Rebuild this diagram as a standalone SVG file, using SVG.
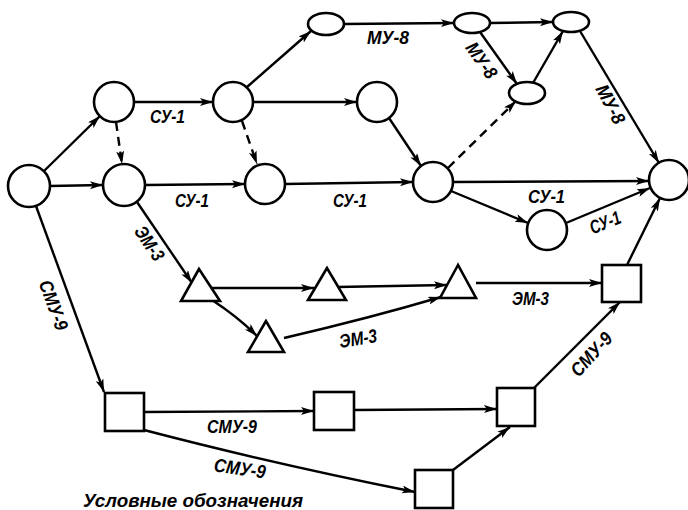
<svg xmlns="http://www.w3.org/2000/svg" width="688" height="510" viewBox="0 0 688 510">
<style>
.n{fill:#fff;stroke:#000;stroke-width:2.6}
.e{fill:none;stroke:#000;stroke-width:2.4;marker-end:url(#ah)}
.d{stroke-dasharray:9 6}
.t{font-family:"Liberation Sans",Arial,sans-serif;font-style:italic;font-weight:bold;font-size:19px;fill:#000}
</style>
<defs>
<marker id="ah" markerWidth="15" markerHeight="10" refX="13" refY="4" orient="auto" markerUnits="userSpaceOnUse">
<path d="M0,0 L13,4 L0,8 L3,4 Z" fill="#000"/>
</marker>
</defs>
<rect width="688" height="510" fill="#fff"/>
<g id="connectors">
<path class="e" d="M44,171 L100,116"/>
<path class="e" d="M50,186 L103,185"/>
<path class="e" d="M36,206 L104,392"/>
<path class="e" d="M134,102 L213,102"/>
<path class="e d" d="M116,122 L122,164"/>
<path class="e" d="M145,185 L245,184"/>
<path class="e" d="M137,202 L192,283"/>
<path class="e" d="M247,87 L311,31"/>
<path class="e" d="M253,102 L357,102"/>
<path class="e d" d="M242,121 L257,164"/>
<path class="e" d="M389,118 L421,166"/>
<path class="e" d="M285,184 L413,182"/>
<path class="e" d="M344,24 L454,23"/>
<path class="e" d="M490,23 L553,22"/>
<path class="e" d="M480,32 L517,84"/>
<path class="e" d="M533,83 L563,31"/>
<path class="e d" d="M448,168 L516,101"/>
<path class="e" d="M580,31 L659,163"/>
<path class="e" d="M453,182 L649,181"/>
<path class="e" d="M451,191 L528,223"/>
<path class="e" d="M566,223 L650,188"/>
<path class="e" d="M627,265 L660,198"/>
<path class="e" d="M209,288 L314,288"/>
<path class="e" d="M212,300 Q238,317 257,336"/>
<path class="e" d="M337,287 L447,285"/>
<path class="e" d="M284,338 Q370,318 441,297"/>
<path class="e" d="M476,283 L602,283"/>
<path class="e" d="M144,412 L314,411"/>
<path class="e" d="M354,410 L497,409"/>
<path class="e" d="M144,430 Q270,463 415,492"/>
<path class="e" d="M453,470 L510,427"/>
<path class="e" d="M534,388 L620,302"/>
</g>
<g id="N1"><circle class="n" cx="29" cy="186" r="21"/></g>
<g id="N2"><circle class="n" cx="114" cy="102" r="20"/></g>
<g id="N3"><circle class="n" cx="124" cy="185" r="21"/></g>
<g id="N4"><circle class="n" cx="233" cy="102" r="20"/></g>
<g id="N5"><circle class="n" cx="265" cy="184" r="20"/></g>
<g id="N6"><ellipse class="n" cx="326" cy="24" rx="18" ry="11"/></g>
<g id="N7"><circle class="n" cx="377" cy="102" r="20"/></g>
<g id="N8"><circle class="n" cx="433" cy="182" r="20"/></g>
<g id="N9"><ellipse class="n" cx="472" cy="23" rx="18" ry="10"/></g>
<g id="N10"><ellipse class="n" cx="571" cy="22" rx="18" ry="10"/></g>
<g id="N11"><ellipse class="n" cx="527" cy="93" rx="18" ry="11"/></g>
<g id="N12"><circle class="n" cx="669" cy="180" r="20"/></g>
<g id="N13"><circle class="n" cx="547" cy="230" r="20"/></g>
<g id="T1"><polygon class="n" points="199,269 181,301 220,301"/></g>
<g id="T2"><polygon class="n" points="327,268 308,300 346,300"/></g>
<g id="T3"><polygon class="n" points="458,265 440,298 476,298"/></g>
<g id="T4"><polygon class="n" points="266,321 248,352 284,352"/></g>
<g id="S1"><rect class="n" x="602" y="265" width="39" height="37"/></g>
<g id="S2"><rect class="n" x="497" y="388" width="38" height="38"/></g>
<g id="S3"><rect class="n" x="105" y="393" width="39" height="38"/></g>
<g id="S4"><rect class="n" x="314" y="392" width="40" height="38"/></g>
<g id="S5"><rect class="n" x="415" y="470" width="38" height="38"/></g>
<g id="labels">
<text class="t" x="150" y="123" textLength="35" lengthAdjust="spacingAndGlyphs">СУ-1</text>
<text class="t" x="175" y="207" textLength="34" lengthAdjust="spacingAndGlyphs">СУ-1</text>
<text class="t" x="333" y="207" textLength="34" lengthAdjust="spacingAndGlyphs">СУ-1</text>
<text class="t" x="367" y="44" textLength="42" lengthAdjust="spacingAndGlyphs">МУ-8</text>
<text class="t" x="528" y="203" textLength="37" lengthAdjust="spacingAndGlyphs">СУ-1</text>
<text class="t" x="512" y="305" textLength="37" lengthAdjust="spacingAndGlyphs">ЭМ-3</text>
<text class="t" x="207" y="433" textLength="50" lengthAdjust="spacingAndGlyphs">СМУ-9</text>
<text class="t" text-anchor="middle" transform="translate(482,60) rotate(55)" dy="7" textLength="40" lengthAdjust="spacingAndGlyphs">МУ-8</text>
<text class="t" text-anchor="middle" transform="translate(611,104) rotate(62)" dy="7" textLength="42" lengthAdjust="spacingAndGlyphs">МУ-8</text>
<text class="t" text-anchor="middle" transform="translate(605,222) rotate(-22)" dy="7" textLength="32" lengthAdjust="spacingAndGlyphs">СУ-1</text>
<text class="t" text-anchor="middle" transform="translate(150,243) rotate(56)" dy="7" textLength="38" lengthAdjust="spacingAndGlyphs">ЭМ-3</text>
<text class="t" text-anchor="middle" transform="translate(358,338) rotate(-9)" dy="7" textLength="38" lengthAdjust="spacingAndGlyphs">ЭМ-3</text>
<text class="t" text-anchor="middle" transform="translate(54,305) rotate(70)" dy="7" textLength="52" lengthAdjust="spacingAndGlyphs">СМУ-9</text>
<text class="t" text-anchor="middle" transform="translate(240,468) rotate(8)" dy="7" textLength="52" lengthAdjust="spacingAndGlyphs">СМУ-9</text>
<text class="t" text-anchor="middle" transform="translate(591,354) rotate(-48)" dy="7" textLength="52" lengthAdjust="spacingAndGlyphs">СМУ-9</text>
<text class="t" x="83" y="507" textLength="220" lengthAdjust="spacingAndGlyphs">Условные обозначения</text>
</g>
</svg>
